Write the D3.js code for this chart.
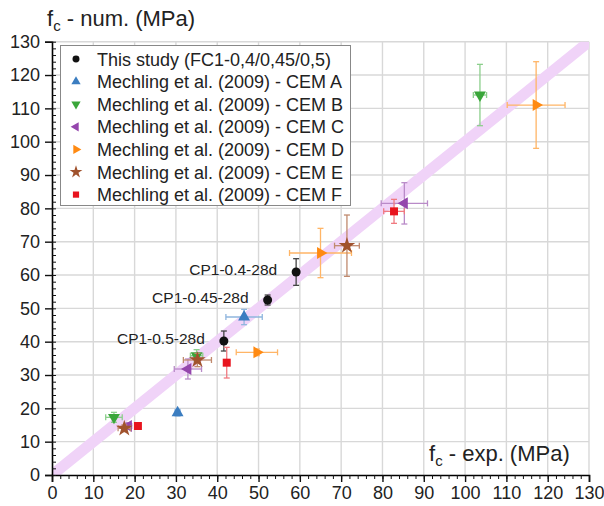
<!DOCTYPE html>
<html>
<head>
<meta charset="utf-8">
<script src="https://cdn.jsdelivr.net/npm/d3@7"></script>
<style>
    html, body { margin: 0; padding: 0; background: #fff; }
    svg { display: block; font-family: 'Liberation Sans', Arial, sans-serif; }
</style>
</head>
<body>
<svg id="chart" width="604" height="506"></svg>
<script>
;((window, document, d3) => {

    'use strict';

    // each point: [f_c exp, f_c num, err exp, err num] (MPa)
    const this_study = [[41.6, 40.2, 0.5, 3.0], [52.2, 52.5, 0.5, 1.5], [59.1, 60.9, 0.5, 4.0]];
    const cem_a = [[46.5, 47.4, 4.4, 2.3], [30.4, 18.7, 0.6, 1.0]];
    const cem_b = [[103.6, 114.0, 1.6, 9.2], [15.0, 17.3, 2.0, 1.5], [35.0, 35.8, 1.5, 1.8]];
    const cem_c = [[85.3, 81.5, 5.6, 6.2], [32.9, 31.8, 3.3, 3.0], [18.5, 14.7, 0.8, 1.0]];
    const cem_d = [[117.2, 111.0, 7.0, 13.0], [65.0, 66.6, 7.5, 7.4], [49.6, 36.8, 5.0, 1.0]];
    const cem_e = [[71.4, 68.8, 3.0, 9.2], [35.2, 34.5, 3.4, 2.0], [17.5, 14.0, 1.5, 1.0]];
    const cem_f = [[82.8, 79.1, 2.5, 3.6], [42.3, 33.7, 0.5, 4.6], [20.8, 14.7, 0.5, 0.8]];

    const series_names = [
        'This study (FC1-0,4/0,45/0,5)',
        'Mechling et al. (2009) - CEM A',
        'Mechling et al. (2009) - CEM B',
        'Mechling et al. (2009) - CEM C',
        'Mechling et al. (2009) - CEM D',
        'Mechling et al. (2009) - CEM E',
        'Mechling et al. (2009) - CEM F'
    ];
    const point_labels = ['CP1-0.5-28d', 'CP1-0.45-28d', 'CP1-0.4-28d'];
    const tick_values = d3.range(0, 131, 10);
    const minor_tick_values = d3.range(0, 131, 2);

    const series = [
        { name: series_names[0], data: this_study, color: '#111', err: '#444', symbol: d3.symbolCircle, rot: 0, size: 64 },
        { name: series_names[1], data: cem_a, color: '#3b7dc0', err: '#8fb6de', symbol: d3.symbolTriangle, rot: 0, size: 62 },
        { name: series_names[2], data: cem_b, color: '#3aa63a', err: '#8ccf8c', symbol: d3.symbolTriangle, rot: 180, size: 62 },
        { name: series_names[3], data: cem_c, color: '#9546ad', err: '#b98ac8', symbol: d3.symbolTriangle, rot: -90, size: 62 },
        { name: series_names[4], data: cem_d, color: '#ff8a12', err: '#ffb566', symbol: d3.symbolTriangle, rot: 90, size: 62 },
        { name: series_names[5], data: cem_e, color: '#a0522d', err: '#c08a6e', symbol: d3.symbolStar, rot: 0, size: 85 },
        { name: series_names[6], data: cem_f, color: '#e8141e', err: '#f07a80', symbol: d3.symbolSquare, rot: 0, size: 64 }
    ];

    const svg = d3.select('#chart');
    const x = d3.scaleLinear().domain([0, 130]).range([52, 589]);
    const y = d3.scaleLinear().domain([0, 130]).range([475, 41.7]);

    // grid
    const grid = svg.append('g').attr('class', 'grid').attr('stroke', '#d8d8d8').attr('stroke-width', 1.4);
    grid.selectAll('line.v').data(tick_values.slice(1)).enter().append('line')
        .attr('x1', d => x(d)).attr('x2', d => x(d)).attr('y1', y(0)).attr('y2', y(130));
    grid.selectAll('line.h').data(tick_values.slice(1)).enter().append('line')
        .attr('x1', x(0)).attr('x2', x(130)).attr('y1', d => y(d)).attr('y2', d => y(d));

    // 1:1 band
    svg.append('defs').append('clipPath').attr('id', 'plot-clip')
        .append('rect').attr('x', x(0)).attr('y', y(130)).attr('width', x(130) - x(0)).attr('height', y(0) - y(130));
    svg.append('line')
        .attr('clip-path', 'url(#plot-clip)')
        .attr('x1', x(-2)).attr('y1', y(-2)).attr('x2', x(132)).attr('y2', y(132))
        .attr('stroke', '#f0d3f8').attr('stroke-width', 11);

    // axes
    const font_size = 18;
    const x_axis = svg.append('g').attr('transform', `translate(0, ${y(0)})`)
        .call(d3.axisBottom(x).tickValues(tick_values).tickSize(7).tickPadding(4));
    svg.append('g').attr('transform', `translate(0, ${y(0)})`)
        .call(d3.axisBottom(x).tickValues(minor_tick_values).tickSize(4).tickFormat(''))
        .call(g => g.select('.domain').remove());
    const y_axis = svg.append('g').attr('transform', `translate(${x(0)}, 0)`)
        .call(d3.axisLeft(y).tickValues(tick_values).tickSize(7).tickPadding(5));
    svg.append('g').attr('transform', `translate(${x(0)}, 0)`)
        .call(d3.axisRight(y).tickValues(minor_tick_values).tickSize(4).tickFormat(''))
        .call(g => g.select('.domain').remove());

    [x_axis, y_axis].forEach(g => {
        g.selectAll('text').attr('font-size', font_size).attr('fill', '#222').attr('font-family', null);
        g.select('.domain').attr('stroke-width', 1.6);
        g.selectAll('.tick line').attr('stroke-width', 1.4);
    });
    svg.selectAll('.tick line').attr('stroke', '#111');

    // axis titles
    const addTitle = (tx, ty, label) => {
        const t = svg.append('text').attr('x', tx).attr('y', ty).attr('font-size', 22).attr('fill', '#222');
        t.append('tspan').text('f');
        t.append('tspan').attr('font-size', 15).attr('dy', 5).text('c');
        t.append('tspan').attr('dy', -5).text(label);
    };
    addTitle(47, 26, ' - num. (MPa)');
    addTitle(429, 461, ' - exp. (MPa)');

    // error bars + markers
    const cap = 3;
    series.forEach(s => {
        const g = svg.append('g');
        const bars = g.selectAll('g.err').data(s.data).enter().append('g')
            .attr('stroke', s.err).attr('stroke-width', 1.3);
        bars.append('line')
            .attr('x1', d => x(d[0] - d[2])).attr('x2', d => x(d[0] + d[2]))
            .attr('y1', d => y(d[1])).attr('y2', d => y(d[1]));
        bars.append('line')
            .attr('x1', d => x(d[0])).attr('x2', d => x(d[0]))
            .attr('y1', d => y(d[1] - d[3])).attr('y2', d => y(d[1] + d[3]));
        [-1, 1].forEach(sign => {
            bars.append('line')
                .attr('x1', d => x(d[0] + sign * d[2])).attr('x2', d => x(d[0] + sign * d[2]))
                .attr('y1', d => y(d[1]) - cap).attr('y2', d => y(d[1]) + cap);
            bars.append('line')
                .attr('x1', d => x(d[0]) - cap).attr('x2', d => x(d[0]) + cap)
                .attr('y1', d => y(d[1] + sign * d[3])).attr('y2', d => y(d[1] + sign * d[3]));
        });
        g.selectAll('path.mark').data(s.data).enter().append('path')
            .attr('d', d3.symbol().type(s.symbol).size(s.size))
            .attr('transform', d => `translate(${x(d[0])}, ${y(d[1])}) rotate(${s.rot})`)
            .attr('fill', s.color);
    });

    // labels of this study
    svg.selectAll('text.pt-label').data(this_study).enter().append('text')
        .attr('x', d => x(d[0]) - 19).attr('y', d => y(d[1]) + 3)
        .attr('text-anchor', 'end').attr('font-size', 15.5).attr('fill', '#222')
        .text((d, i) => point_labels[i]);

    // legend
    const legend = svg.append('g');
    legend.append('rect').attr('x', 60.5).attr('y', 45.5).attr('width', 290).attr('height', 160)
        .attr('fill', '#fff').attr('stroke', '#888').attr('stroke-width', 1);
    const rows = legend.selectAll('g.row').data(series).enter().append('g')
        .attr('transform', (d, i) => `translate(76, ${59 + i * 22.6})`);
    rows.append('path')
        .attr('d', d => d3.symbol().type(d.symbol).size(d.size * 0.6)())
        .attr('transform', d => `rotate(${d.rot})`)
        .attr('fill', d => d.color);
    rows.append('text').attr('x', 21).attr('y', 6.5).attr('font-size', 18).attr('fill', '#222')
        .text(d => d.name);

})(window, document, window.d3);
</script>
</body>
</html>
